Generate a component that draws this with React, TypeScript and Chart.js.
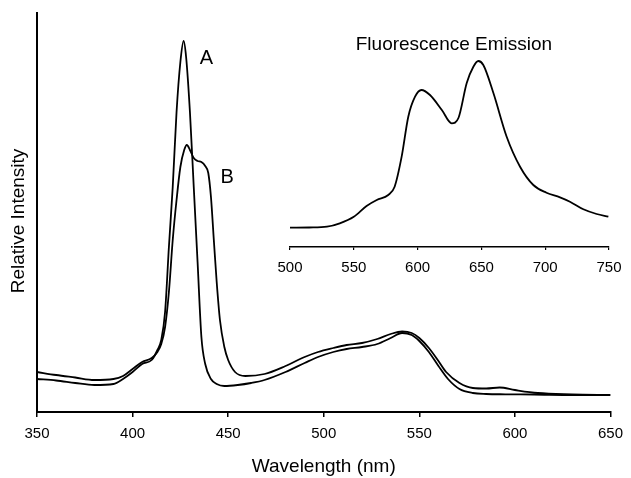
import React, { useEffect, useRef } from "react";
import { Chart, registerables } from "chart.js";

Chart.register(...registerables);

const W = 631;
const H = 478;
const FONT = "'Liberation Sans', Arial, Helvetica, sans-serif";

// Absorption spectrum A (sharp Soret band)
const wavelengthsA = [350, 360, 370, 380, 390, 395, 400, 405, 410, 413, 415, 417, 419, 421, 423, 425, 426.7, 428, 430, 432, 434, 436, 438, 441, 444, 448, 455, 462, 469, 480, 490, 497, 505, 512, 520, 528, 535, 541, 546, 550, 555, 560, 565, 571, 578, 585, 595, 610, 630, 650];
const intensityA = [33, 31.5, 29, 27, 28, 33, 40, 48, 52, 62, 72, 100, 165, 225, 300, 350, 371, 355, 300, 225, 150, 75, 48, 33, 28, 26, 27, 29, 32, 40, 49, 55, 60, 63, 65, 68, 74, 79, 77, 71, 60, 46, 33, 23, 19, 18, 17.7, 17.5, 17, 17];

// Absorption spectrum B (broadened band with shoulder)
const wavelengthsB = [350, 360, 370, 380, 390, 395, 400, 405, 410, 413, 415, 417, 419, 421, 423, 425, 427, 428.4, 430, 432, 434, 436, 438, 439.6, 441, 442.5, 444, 445.7, 448, 450, 453.6, 459, 469, 480, 490, 497, 505, 512, 520, 528, 535, 541, 546, 550, 555, 560, 564, 571, 578, 585, 592, 600, 612, 630, 650];
const intensityB = [40, 37, 34.5, 32, 33, 36, 43, 50, 54, 60, 68, 85, 120, 172, 212, 245, 262, 267, 262, 254, 251, 250, 246, 239, 215, 172, 130, 92, 65, 52, 40, 36, 38, 46, 55, 60, 64, 67, 69, 73, 78, 80.5, 79, 74, 64, 51, 40, 29, 24, 23.5, 24.5, 22, 19, 17.7, 17];

// Inset: fluorescence emission
const emissionWavelengths = [500, 515, 529, 539, 550, 560, 568, 577, 582, 587.5, 592.7, 598, 603, 609.7, 619, 626.7, 632, 638.5, 643.7, 647.6, 651.5, 659.4, 669.8, 680.3, 690.7, 701, 711.6, 719.4, 729.9, 740.3, 749.5];
const emissionIntensity = [19.3, 19.5, 20.3, 23.7, 30.3, 41, 47, 52, 60.3, 90.3, 130.3, 150.3, 157, 152, 137, 123.7, 129, 164, 180.3, 186, 182, 154, 110.3, 80.3, 62, 54.3, 49.7, 45.3, 37.7, 33, 30.3];

const curveLabels = ["A", "B"];
const curveLabelWavelength = [438.6, 449.5];
const curveLabelIntensity = [354, 235];

const yTitle = "Relative Intensity";
const yTitleIntensity = 191;

const insetTitle = "Fluorescence Emission";
const insetTitleWavelength = 628.5;
const insetTitleIntensity = 202;

const zip = (xs: number[], ys: number[]) => xs.map((x, i) => ({ x, y: ys[i] }));

const mainLabelPlugin = {
  id: "curveLabels",
  afterDatasetsDraw(chart: any) {
    const { ctx, scales } = chart;
    ctx.save();
    ctx.fillStyle = "#000";
    ctx.font = `20px ${FONT}`;
    ctx.textAlign = "center";
    ctx.textBaseline = "middle";
    curveLabels.forEach((t, i) => {
      ctx.fillText(t, scales.x.getPixelForValue(curveLabelWavelength[i]), scales.y.getPixelForValue(curveLabelIntensity[i]));
    });
    // y-axis title
    ctx.font = `19px ${FONT}`;
    ctx.translate(19, scales.y.getPixelForValue(yTitleIntensity));
    ctx.rotate(-Math.PI / 2);
    ctx.fillText(yTitle, 0, 0);
    ctx.restore();
  },
};

const insetTitlePlugin = {
  id: "insetTitle",
  afterDatasetsDraw(chart: any) {
    const { ctx, scales } = chart;
    ctx.save();
    ctx.fillStyle = "#000";
    ctx.font = `19px ${FONT}`;
    ctx.textAlign = "center";
    ctx.textBaseline = "middle";
    ctx.fillText(insetTitle, scales.x.getPixelForValue(insetTitleWavelength), scales.y.getPixelForValue(insetTitleIntensity));
    ctx.restore();
  },
};

export default function App() {
  const mainRef = useRef<HTMLCanvasElement>(null);
  const insetRef = useRef<HTMLCanvasElement>(null);

  useEffect(() => {
    const main = new Chart(mainRef.current as HTMLCanvasElement, {
      type: "line",
      data: {
        datasets: [
          { label: "A", data: zip(wavelengthsA, intensityA), borderColor: "#000", borderWidth: 1.8, pointRadius: 0, cubicInterpolationMode: "monotone", fill: false },
          { label: "B", data: zip(wavelengthsB, intensityB), borderColor: "#000", borderWidth: 1.8, pointRadius: 0, cubicInterpolationMode: "monotone", fill: false },
        ],
      },
      options: {
        responsive: false,
        animation: false,
        events: [],
        layout: { padding: { left: 0, top: 13, right: 15, bottom: 0 } },
        plugins: { legend: { display: false }, tooltip: { enabled: false }, title: { display: false } },
        scales: {
          x: {
            type: "linear",
            min: 350,
            max: 650,
            ticks: { stepSize: 50, color: "#000", font: { family: FONT, size: 15 }, padding: 8 },
            grid: { display: true, drawOnChartArea: false, drawTicks: true, tickLength: 5, color: "#000", lineWidth: 1.5 },
            border: { display: true, color: "#000", width: 2 },
            title: { display: true, text: "Wavelength (nm)", color: "#000", font: { family: FONT, size: 19 }, padding: { top: 0, bottom: 0 } },
            afterFit: (s: any) => { s.height = 66; },
          },
          y: {
            type: "linear",
            min: 0,
            max: 399,
            ticks: { display: false },
            grid: { display: false },
            border: { display: true, color: "#000", width: 2 },
            title: { display: false },
            afterFit: (s: any) => { s.width = 37; },
          },
        },
      } as any,
      plugins: [mainLabelPlugin],
    });

    const inset = new Chart(insetRef.current as HTMLCanvasElement, {
      type: "line",
      data: {
        datasets: [
          { label: "Emission", data: zip(emissionWavelengths, emissionIntensity), borderColor: "#000", borderWidth: 1.8, pointRadius: 0, cubicInterpolationMode: "monotone", fill: false },
        ],
      },
      options: {
        responsive: false,
        animation: false,
        events: [],
        layout: { padding: { left: 290, top: 47, right: 22, bottom: 0 } },
        plugins: { legend: { display: false }, tooltip: { enabled: false }, title: { display: false } },
        scales: {
          x: {
            type: "linear",
            min: 500,
            max: 750,
            ticks: { stepSize: 50, color: "#000", font: { family: FONT, size: 15 }, padding: 9 },
            grid: { display: true, drawOnChartArea: false, drawTicks: true, tickLength: 3, color: "#000", lineWidth: 1.2 },
            border: { display: true, color: "#000", width: 1.5 },
            afterFit: (s: any) => { s.height = 231; },
          },
          y: { type: "linear", display: false, min: 0, max: 200 },
        },
      } as any,
      plugins: [insetTitlePlugin],
    });

    return () => {
      main.destroy();
      inset.destroy();
    };
  }, []);

  return (
    <div style={{ position: "fixed", left: 0, top: 0, width: W, height: H, background: "#fff" }}>
      <canvas ref={mainRef} width={W} height={H} style={{ position: "absolute", left: 0, top: 0, width: W, height: H }} />
      <canvas ref={insetRef} width={W} height={H} style={{ position: "absolute", left: 0, top: 0, width: W, height: H, pointerEvents: "none" }} />
    </div>
  );
}
